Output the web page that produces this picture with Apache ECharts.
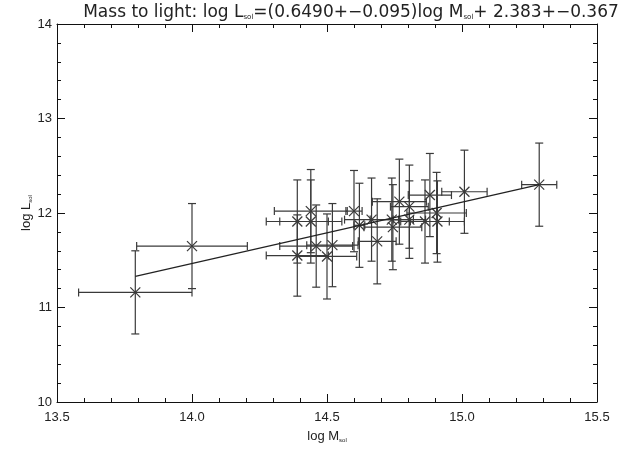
<!DOCTYPE html>
<html>
<head>
<meta charset="utf-8">
<script src="https://cdn.jsdelivr.net/npm/echarts@6/dist/echarts.min.js"></script>
<style>html,body{margin:0;padding:0;background:#fff}#c{width:629px;height:449px}</style>
</head>
<body>
<div id="c"></div>
<script>
// log M_sol of each cluster
var xs   = [13.79, 14.00, 14.39, 14.44, 14.44, 14.39, 14.46, 14.52, 14.50, 14.60, 14.62, 14.665,
            14.686, 14.768, 14.74, 14.744, 14.805, 14.805, 14.881, 14.863, 14.909, 14.906, 15.009, 15.286];
// log L_sol of each cluster
var ys   = [11.16, 11.65, 11.91, 12.02, 11.91, 11.55, 11.65, 11.66, 11.54, 12.02, 11.87, 11.93,
            11.70, 12.12, 11.93, 11.85, 12.067, 11.93, 12.19, 11.91, 11.91, 12.00, 12.225, 12.30];
var xErr = [0.21, 0.205, 0.115, 0.135, 0.115, 0.115, 0.135, 0.095, 0.11, 0.03, 0.02, 0.10,
            0.07, 0.10, 0.08, 0.107, 0.07, 0.06, 0.08, 0.09, 0.10, 0.11, 0.084, 0.065];
var yErr = [0.44, 0.45, 0.44, 0.44, 0.44, 0.43, 0.435, 0.44, 0.45, 0.43, 0.445, 0.44,
            0.45, 0.45, 0.44, 0.45, 0.44, 0.41, 0.44, 0.44, 0.43, 0.43, 0.44, 0.44];
// fitted relation endpoints
var fitX = [13.79, 15.286];
var fitY = [11.33, 12.30];
var xTicks = [13.5, 14.0, 14.5, 15.0, 15.5];
var yTicks = [10, 11, 12, 13, 14];

var pts = xs.map(function (x, i) { return [x, ys[i], xErr[i], yErr[i]]; });
var fit = fitX.map(function (x, i) { return [x, fitY[i]]; });

var chart = echarts.init(document.getElementById('c'), null, {renderer: 'canvas'});
var ink = '#3a3a3a';
var font = 'Liberation Sans, DejaVu Sans, sans-serif';
var tfont = 'DejaVu Sans, sans-serif';
var axisCommon = {
  axisLine: {show: true, lineStyle: {color: '#111', width: 1}},
  axisTick: {show: true, inside: true, length: 8, lineStyle: {color: '#111'}},
  minorTick: {show: true, splitNumber: 5, length: 4, lineStyle: {color: '#111'}},
  splitLine: {show: false},
  minorSplitLine: {show: false}
};
function ax(extra) { return Object.assign({}, JSON.parse(JSON.stringify(axisCommon)), extra); }

function renderErr(params, api) {
  var x = api.value(0), y = api.value(1), ex = api.value(2), ey = api.value(3);
  var c = api.coord([x, y]);
  var l = api.coord([x - ex, y]), r = api.coord([x + ex, y]);
  var t = api.coord([x, y + ey]), b = api.coord([x, y - ey]);
  var cap = 4, m = 5;
  var st = {stroke: ink, lineWidth: 1.2};
  var lines = [
    [l[0], c[1], r[0], c[1]],
    [l[0], c[1] - cap, l[0], c[1] + cap],
    [r[0], c[1] - cap, r[0], c[1] + cap],
    [c[0], t[1], c[0], b[1]],
    [c[0] - cap, t[1], c[0] + cap, t[1]],
    [c[0] - cap, b[1], c[0] + cap, b[1]],
    [c[0] - m, c[1] - m, c[0] + m, c[1] + m],
    [c[0] - m, c[1] + m, c[0] + m, c[1] - m]
  ];
  return {
    type: 'group',
    children: lines.map(function (p) {
      return {type: 'line', shape: {x1: p[0], y1: p[1], x2: p[2], y2: p[3]}, style: st};
    })
  };
}

chart.setOption({
  animation: false,
  backgroundColor: '#fff',
  title: {
    text: '{a|Mass to light: log L}{s|sol}{a|=(0.6490+\u22120.095)log M}{s|sol}{a|+ 2.383+\u22120.367}',
    left: 346, top: -1, textAlign: 'center',
    textStyle: {
      fontWeight: 'normal',
      rich: {
        a: {fontFamily: tfont, fontSize: 17, fontWeight: 'normal', color: '#222'},
        s: {fontFamily: tfont, fontSize: 7, fontWeight: 'normal', color: '#222', verticalAlign: 'bottom', padding: [8, 0, 0, 0]}
      }
    }
  },
  grid: {left: 57, right: 32, top: 24, bottom: 47},
  xAxis: [
    ax({type: 'value', min: xTicks[0], max: xTicks[xTicks.length - 1], interval: 0.5, position: 'bottom',
      name: '{a|log M}{s|sol}', nameLocation: 'middle', nameGap: 28, nameMoveOverlap: false,
      nameTextStyle: {rich: {a: {fontFamily: font, fontSize: 13, color: '#222'},
        s: {fontFamily: font, fontSize: 6, color: '#222', verticalAlign: 'bottom', padding: [6, 0, 0, 0]}}},
      axisLabel: {fontFamily: font, fontSize: 13, color: '#222', margin: 9,
        formatter: function (v) { return v.toFixed(1); }}}),
    ax({type: 'value', min: xTicks[0], max: xTicks[xTicks.length - 1], interval: 0.5, position: 'top',
      axisLabel: {show: false}})
  ],
  yAxis: [
    ax({type: 'value', min: yTicks[0], max: yTicks[yTicks.length - 1], interval: 1, position: 'left',
      name: '{a|log L}{s|sol}', nameLocation: 'middle', nameGap: 24, nameRotate: 90, nameMoveOverlap: false,
      nameTextStyle: {rich: {a: {fontFamily: font, fontSize: 13, color: '#222'},
        s: {fontFamily: font, fontSize: 6, color: '#222', verticalAlign: 'bottom', padding: [6, 0, 0, 0]}}},
      axisLabel: {fontFamily: font, fontSize: 13, color: '#222', margin: 5}}),
    ax({type: 'value', min: yTicks[0], max: yTicks[yTicks.length - 1], interval: 1, position: 'right',
      axisLabel: {show: false}})
  ],
  series: [
    {type: 'custom', renderItem: renderErr, data: pts, xAxisIndex: 0, yAxisIndex: 0, z: 3},
    {type: 'line', data: fit, symbol: 'none', lineStyle: {color: '#222', width: 1.2}, z: 4}
  ]
});
</script>
</body>
</html>
